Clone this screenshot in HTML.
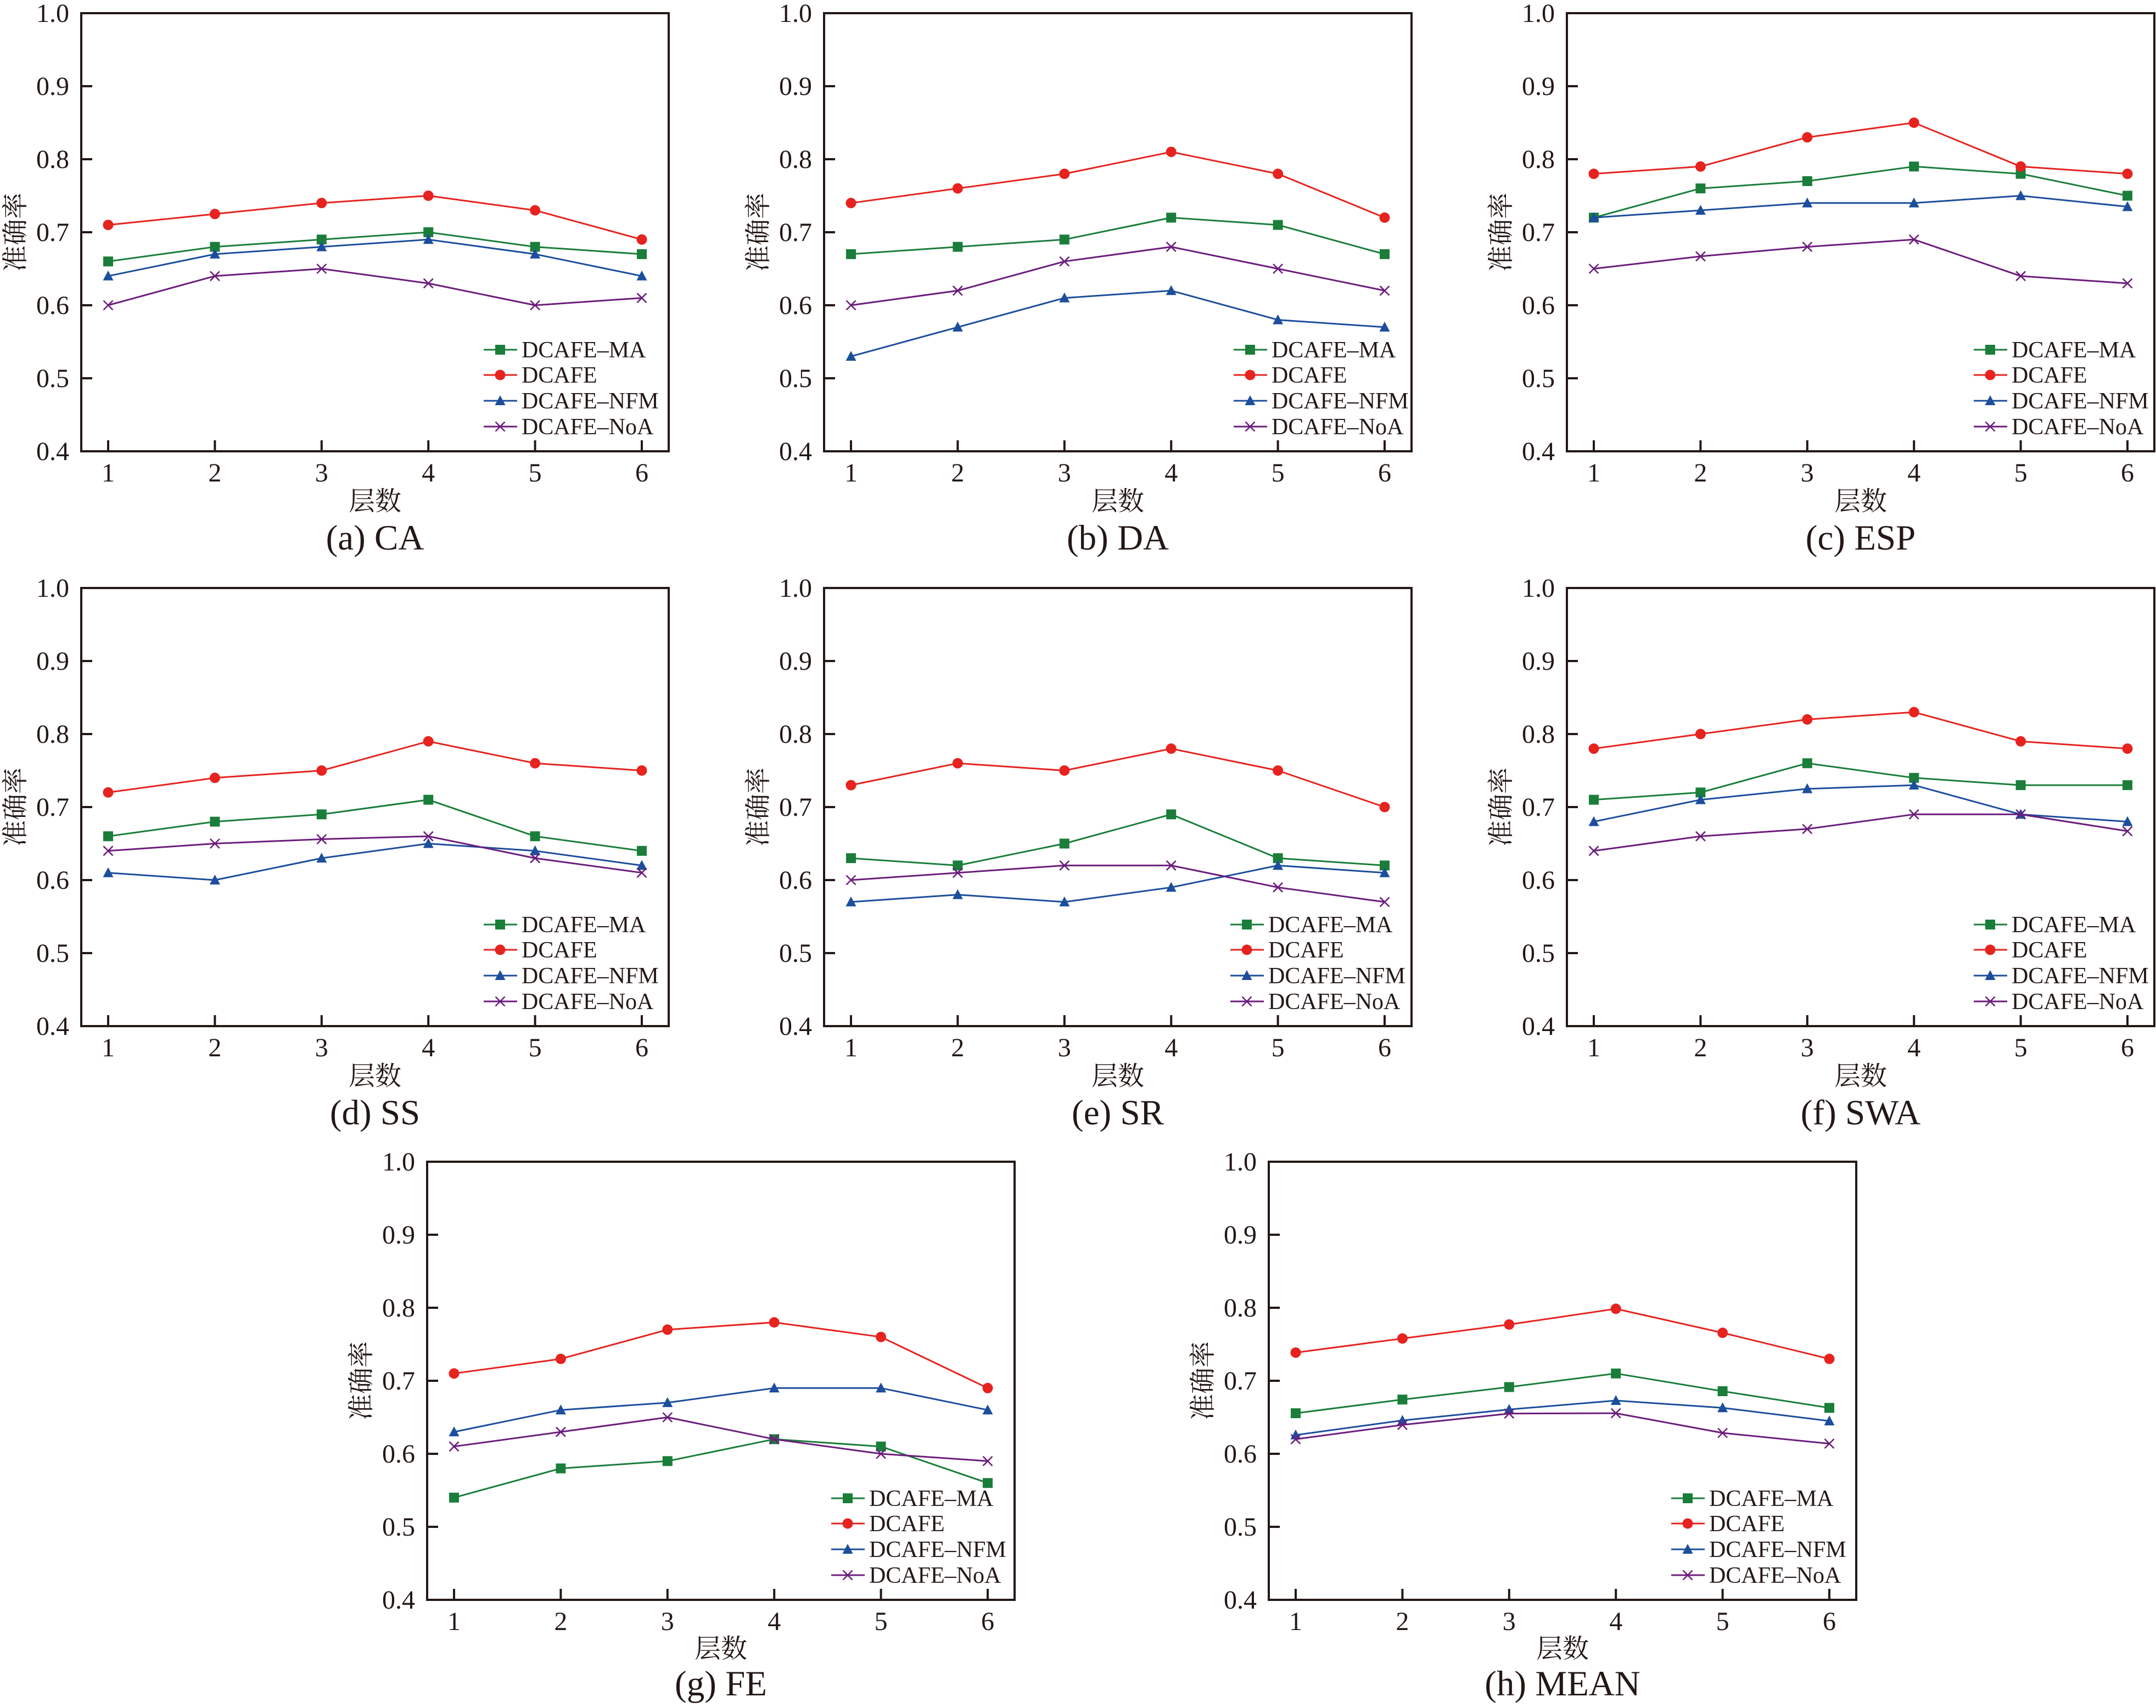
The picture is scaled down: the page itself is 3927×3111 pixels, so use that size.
<!DOCTYPE html>
<html>
<head>
<meta charset="utf-8">
<style>
html,body{margin:0;padding:0;background:#fff;}
svg{display:block;}
.t{font-family:"Liberation Serif","Noto Serif CJK SC",serif;fill:#231815;}
.tk{font-size:48px;}
.lg{font-size:42px;}
.cj{font-size:48px;}
.cap{font-size:65px;}
.fr{fill:none;stroke:#231815;stroke-width:4;}
.tick{fill:none;stroke:#231815;stroke-width:4;}
.s{fill:none;stroke-width:3;stroke-linejoin:round;}
.g{stroke:#1a7e3a;}
.r{stroke:#e6231f;}
.b{stroke:#1c4e9c;}
.p{stroke:#6c1d7c;}
</style>
</head>
<body>
<svg width="3927" height="3111" viewBox="0 0 3927 3111" xmlns="http://www.w3.org/2000/svg">
<defs>
<marker id="mS" markerUnits="userSpaceOnUse" markerWidth="20" markerHeight="20" refX="10" refY="10" overflow="visible"><rect x="1" y="1" width="18" height="18" fill="#1a7e3a"/></marker>
<marker id="mC" markerUnits="userSpaceOnUse" markerWidth="20" markerHeight="20" refX="10" refY="10" overflow="visible"><circle cx="10" cy="10" r="9.5" fill="#e6231f"/></marker>
<marker id="mT" markerUnits="userSpaceOnUse" markerWidth="20" markerHeight="20" refX="10" refY="10" overflow="visible"><polygon points="10,0 19.5,18 0.5,18" fill="#1c4e9c"/></marker>
<marker id="mX" markerUnits="userSpaceOnUse" markerWidth="20" markerHeight="20" refX="10" refY="10" overflow="visible"><path d="M1.5,1.5L18.5,18.5M18.5,1.5L1.5,18.5" stroke="#6c1d7c" stroke-width="2.6" fill="none"/></marker>
</defs>
<rect width="3927" height="3111" fill="#fff"/>

<!-- (a) CA -->
<g transform="translate(148,24)">
<rect class="fr" x="0" y="0" width="1070" height="798"/>
<path class="tick" d="M0,133h20M0,266h20M0,399h20M0,532h20M0,665h20M49,798v-20M243.4,798v-20M437.8,798v-20M632.2,798v-20M826.6,798v-20M1021,798v-20"/>
<g class="t tk" text-anchor="end"><text x="-22" y="16">1.0</text><text x="-22" y="149">0.9</text><text x="-22" y="282">0.8</text><text x="-22" y="415">0.7</text><text x="-22" y="548">0.6</text><text x="-22" y="681">0.5</text><text x="-22" y="814">0.4</text></g>
<g class="t tk" text-anchor="middle"><text x="49" y="853">1</text><text x="243.4" y="853">2</text><text x="437.8" y="853">3</text><text x="632.2" y="853">4</text><text x="826.6" y="853">5</text><text x="1021" y="853">6</text></g>
<text class="t cj" x="535" y="905" text-anchor="middle">层数</text>
<text class="t cap" x="535" y="977" text-anchor="middle">(a) CA</text>
<text class="t cj" transform="translate(-104,399) rotate(-90)" text-anchor="middle">准确率</text>
<polyline class="s g" marker-start="url(#mS)" marker-mid="url(#mS)" marker-end="url(#mS)" points="49,452.2 243.4,425.6 437.8,412.3 632.2,399 826.6,425.6 1021,438.9"/>
<polyline class="s r" marker-start="url(#mC)" marker-mid="url(#mC)" marker-end="url(#mC)" points="49,385.7 243.4,365.8 437.8,345.8 632.2,332.5 826.6,359.1 1021,412.3"/>
<polyline class="s b" marker-start="url(#mT)" marker-mid="url(#mT)" marker-end="url(#mT)" points="49,478.8 243.4,438.9 437.8,425.6 632.2,412.3 826.6,438.9 1021,478.8"/>
<polyline class="s p" marker-start="url(#mX)" marker-mid="url(#mX)" marker-end="url(#mX)" points="49,532 243.4,478.8 437.8,465.5 632.2,492.1 826.6,532 1021,518.7"/>
<g transform="translate(802,0)">
<path class="s g" marker-mid="url(#mS)" d="M-69,613H-39H-8"/>
<path class="s r" marker-mid="url(#mC)" d="M-69,659H-39H-8"/>
<path class="s b" marker-mid="url(#mT)" d="M-69,706H-39H-8"/>
<path class="s p" marker-mid="url(#mX)" d="M-69,753H-39H-8"/>
<g class="t lg"><text x="0" y="627">DCAFE–MA</text><text x="0" y="673">DCAFE</text><text x="0" y="720">DCAFE–NFM</text><text x="0" y="767">DCAFE–NoA</text></g>
</g>
</g>

<!-- (b) DA -->
<g transform="translate(1501,24)">
<rect class="fr" x="0" y="0" width="1070" height="798"/>
<path class="tick" d="M0,133h20M0,266h20M0,399h20M0,532h20M0,665h20M49,798v-20M243.4,798v-20M437.8,798v-20M632.2,798v-20M826.6,798v-20M1021,798v-20"/>
<g class="t tk" text-anchor="end"><text x="-22" y="16">1.0</text><text x="-22" y="149">0.9</text><text x="-22" y="282">0.8</text><text x="-22" y="415">0.7</text><text x="-22" y="548">0.6</text><text x="-22" y="681">0.5</text><text x="-22" y="814">0.4</text></g>
<g class="t tk" text-anchor="middle"><text x="49" y="853">1</text><text x="243.4" y="853">2</text><text x="437.8" y="853">3</text><text x="632.2" y="853">4</text><text x="826.6" y="853">5</text><text x="1021" y="853">6</text></g>
<text class="t cj" x="535" y="905" text-anchor="middle">层数</text>
<text class="t cap" x="535" y="977" text-anchor="middle">(b) DA</text>
<text class="t cj" transform="translate(-104,399) rotate(-90)" text-anchor="middle">准确率</text>
<polyline class="s g" marker-start="url(#mS)" marker-mid="url(#mS)" marker-end="url(#mS)" points="49,438.9 243.4,425.6 437.8,412.3 632.2,372.4 826.6,385.7 1021,438.9"/>
<polyline class="s r" marker-start="url(#mC)" marker-mid="url(#mC)" marker-end="url(#mC)" points="49,345.8 243.4,319.2 437.8,292.6 632.2,252.7 826.6,292.6 1021,372.4"/>
<polyline class="s b" marker-start="url(#mT)" marker-mid="url(#mT)" marker-end="url(#mT)" points="49,625.1 243.4,571.9 437.8,518.7 632.2,505.4 826.6,558.6 1021,571.9"/>
<polyline class="s p" marker-start="url(#mX)" marker-mid="url(#mX)" marker-end="url(#mX)" points="49,532 243.4,505.4 437.8,452.2 632.2,425.6 826.6,465.5 1021,505.4"/>
<g transform="translate(815,0)">
<path class="s g" marker-mid="url(#mS)" d="M-69,613H-39H-8"/>
<path class="s r" marker-mid="url(#mC)" d="M-69,659H-39H-8"/>
<path class="s b" marker-mid="url(#mT)" d="M-69,706H-39H-8"/>
<path class="s p" marker-mid="url(#mX)" d="M-69,753H-39H-8"/>
<g class="t lg"><text x="0" y="627">DCAFE–MA</text><text x="0" y="673">DCAFE</text><text x="0" y="720">DCAFE–NFM</text><text x="0" y="767">DCAFE–NoA</text></g>
</g>
</g>

<!-- (c) ESP -->
<g transform="translate(2854,24)">
<rect class="fr" x="0" y="0" width="1070" height="798"/>
<path class="tick" d="M0,133h20M0,266h20M0,399h20M0,532h20M0,665h20M49,798v-20M243.4,798v-20M437.8,798v-20M632.2,798v-20M826.6,798v-20M1021,798v-20"/>
<g class="t tk" text-anchor="end"><text x="-22" y="16">1.0</text><text x="-22" y="149">0.9</text><text x="-22" y="282">0.8</text><text x="-22" y="415">0.7</text><text x="-22" y="548">0.6</text><text x="-22" y="681">0.5</text><text x="-22" y="814">0.4</text></g>
<g class="t tk" text-anchor="middle"><text x="49" y="853">1</text><text x="243.4" y="853">2</text><text x="437.8" y="853">3</text><text x="632.2" y="853">4</text><text x="826.6" y="853">5</text><text x="1021" y="853">6</text></g>
<text class="t cj" x="535" y="905" text-anchor="middle">层数</text>
<text class="t cap" x="535" y="977" text-anchor="middle">(c) ESP</text>
<text class="t cj" transform="translate(-104,399) rotate(-90)" text-anchor="middle">准确率</text>
<polyline class="s g" marker-start="url(#mS)" marker-mid="url(#mS)" marker-end="url(#mS)" points="49,372.4 243.4,319.2 437.8,305.9 632.2,279.3 826.6,292.6 1021,332.5"/>
<polyline class="s r" marker-start="url(#mC)" marker-mid="url(#mC)" marker-end="url(#mC)" points="49,292.6 243.4,279.3 437.8,226.1 632.2,199.5 826.6,279.3 1021,292.6"/>
<polyline class="s b" marker-start="url(#mT)" marker-mid="url(#mT)" marker-end="url(#mT)" points="49,372.4 243.4,359.1 437.8,345.8 632.2,345.8 826.6,332.5 1021,352.5"/>
<polyline class="s p" marker-start="url(#mX)" marker-mid="url(#mX)" marker-end="url(#mX)" points="49,465.5 243.4,442.9 437.8,425.6 632.2,412.3 826.6,478.8 1021,492.1"/>
<g transform="translate(810,0)">
<path class="s g" marker-mid="url(#mS)" d="M-69,613H-39H-8"/>
<path class="s r" marker-mid="url(#mC)" d="M-69,659H-39H-8"/>
<path class="s b" marker-mid="url(#mT)" d="M-69,706H-39H-8"/>
<path class="s p" marker-mid="url(#mX)" d="M-69,753H-39H-8"/>
<g class="t lg"><text x="0" y="627">DCAFE–MA</text><text x="0" y="673">DCAFE</text><text x="0" y="720">DCAFE–NFM</text><text x="0" y="767">DCAFE–NoA</text></g>
</g>
</g>

<!-- (d) SS -->
<g transform="translate(148,1071)">
<rect class="fr" x="0" y="0" width="1070" height="798"/>
<path class="tick" d="M0,133h20M0,266h20M0,399h20M0,532h20M0,665h20M49,798v-20M243.4,798v-20M437.8,798v-20M632.2,798v-20M826.6,798v-20M1021,798v-20"/>
<g class="t tk" text-anchor="end"><text x="-22" y="16">1.0</text><text x="-22" y="149">0.9</text><text x="-22" y="282">0.8</text><text x="-22" y="415">0.7</text><text x="-22" y="548">0.6</text><text x="-22" y="681">0.5</text><text x="-22" y="814">0.4</text></g>
<g class="t tk" text-anchor="middle"><text x="49" y="853">1</text><text x="243.4" y="853">2</text><text x="437.8" y="853">3</text><text x="632.2" y="853">4</text><text x="826.6" y="853">5</text><text x="1021" y="853">6</text></g>
<text class="t cj" x="535" y="905" text-anchor="middle">层数</text>
<text class="t cap" x="535" y="977" text-anchor="middle">(d) SS</text>
<text class="t cj" transform="translate(-104,399) rotate(-90)" text-anchor="middle">准确率</text>
<polyline class="s g" marker-start="url(#mS)" marker-mid="url(#mS)" marker-end="url(#mS)" points="49,452.2 243.4,425.6 437.8,412.3 632.2,385.7 826.6,452.2 1021,478.8"/>
<polyline class="s r" marker-start="url(#mC)" marker-mid="url(#mC)" marker-end="url(#mC)" points="49,372.4 243.4,345.8 437.8,332.5 632.2,279.3 826.6,319.2 1021,332.5"/>
<polyline class="s b" marker-start="url(#mT)" marker-mid="url(#mT)" marker-end="url(#mT)" points="49,518.7 243.4,532 437.8,492.1 632.2,465.5 826.6,478.8 1021,505.4"/>
<polyline class="s p" marker-start="url(#mX)" marker-mid="url(#mX)" marker-end="url(#mX)" points="49,478.8 243.4,465.5 437.8,457.5 632.2,452.2 826.6,492.1 1021,518.7"/>
<g transform="translate(802,0)">
<path class="s g" marker-mid="url(#mS)" d="M-69,613H-39H-8"/>
<path class="s r" marker-mid="url(#mC)" d="M-69,659H-39H-8"/>
<path class="s b" marker-mid="url(#mT)" d="M-69,706H-39H-8"/>
<path class="s p" marker-mid="url(#mX)" d="M-69,753H-39H-8"/>
<g class="t lg"><text x="0" y="627">DCAFE–MA</text><text x="0" y="673">DCAFE</text><text x="0" y="720">DCAFE–NFM</text><text x="0" y="767">DCAFE–NoA</text></g>
</g>
</g>

<!-- (e) SR -->
<g transform="translate(1501,1071)">
<rect class="fr" x="0" y="0" width="1070" height="798"/>
<path class="tick" d="M0,133h20M0,266h20M0,399h20M0,532h20M0,665h20M49,798v-20M243.4,798v-20M437.8,798v-20M632.2,798v-20M826.6,798v-20M1021,798v-20"/>
<g class="t tk" text-anchor="end"><text x="-22" y="16">1.0</text><text x="-22" y="149">0.9</text><text x="-22" y="282">0.8</text><text x="-22" y="415">0.7</text><text x="-22" y="548">0.6</text><text x="-22" y="681">0.5</text><text x="-22" y="814">0.4</text></g>
<g class="t tk" text-anchor="middle"><text x="49" y="853">1</text><text x="243.4" y="853">2</text><text x="437.8" y="853">3</text><text x="632.2" y="853">4</text><text x="826.6" y="853">5</text><text x="1021" y="853">6</text></g>
<text class="t cj" x="535" y="905" text-anchor="middle">层数</text>
<text class="t cap" x="535" y="977" text-anchor="middle">(e) SR</text>
<text class="t cj" transform="translate(-104,399) rotate(-90)" text-anchor="middle">准确率</text>
<polyline class="s g" marker-start="url(#mS)" marker-mid="url(#mS)" marker-end="url(#mS)" points="49,492.1 243.4,505.4 437.8,465.5 632.2,412.3 826.6,492.1 1021,505.4"/>
<polyline class="s r" marker-start="url(#mC)" marker-mid="url(#mC)" marker-end="url(#mC)" points="49,359.1 243.4,319.2 437.8,332.5 632.2,292.6 826.6,332.5 1021,399"/>
<polyline class="s b" marker-start="url(#mT)" marker-mid="url(#mT)" marker-end="url(#mT)" points="49,571.9 243.4,558.6 437.8,571.9 632.2,545.3 826.6,505.4 1021,518.7"/>
<polyline class="s p" marker-start="url(#mX)" marker-mid="url(#mX)" marker-end="url(#mX)" points="49,532 243.4,518.7 437.8,505.4 632.2,505.4 826.6,545.3 1021,571.9"/>
<g transform="translate(809,0)">
<path class="s g" marker-mid="url(#mS)" d="M-69,613H-39H-8"/>
<path class="s r" marker-mid="url(#mC)" d="M-69,659H-39H-8"/>
<path class="s b" marker-mid="url(#mT)" d="M-69,706H-39H-8"/>
<path class="s p" marker-mid="url(#mX)" d="M-69,753H-39H-8"/>
<g class="t lg"><text x="0" y="627">DCAFE–MA</text><text x="0" y="673">DCAFE</text><text x="0" y="720">DCAFE–NFM</text><text x="0" y="767">DCAFE–NoA</text></g>
</g>
</g>

<!-- (f) SWA -->
<g transform="translate(2854,1071)">
<rect class="fr" x="0" y="0" width="1070" height="798"/>
<path class="tick" d="M0,133h20M0,266h20M0,399h20M0,532h20M0,665h20M49,798v-20M243.4,798v-20M437.8,798v-20M632.2,798v-20M826.6,798v-20M1021,798v-20"/>
<g class="t tk" text-anchor="end"><text x="-22" y="16">1.0</text><text x="-22" y="149">0.9</text><text x="-22" y="282">0.8</text><text x="-22" y="415">0.7</text><text x="-22" y="548">0.6</text><text x="-22" y="681">0.5</text><text x="-22" y="814">0.4</text></g>
<g class="t tk" text-anchor="middle"><text x="49" y="853">1</text><text x="243.4" y="853">2</text><text x="437.8" y="853">3</text><text x="632.2" y="853">4</text><text x="826.6" y="853">5</text><text x="1021" y="853">6</text></g>
<text class="t cj" x="535" y="905" text-anchor="middle">层数</text>
<text class="t cap" x="535" y="977" text-anchor="middle">(f) SWA</text>
<text class="t cj" transform="translate(-104,399) rotate(-90)" text-anchor="middle">准确率</text>
<polyline class="s g" marker-start="url(#mS)" marker-mid="url(#mS)" marker-end="url(#mS)" points="49,385.7 243.4,372.4 437.8,319.2 632.2,345.8 826.6,359.1 1021,359.1"/>
<polyline class="s r" marker-start="url(#mC)" marker-mid="url(#mC)" marker-end="url(#mC)" points="49,292.6 243.4,266 437.8,239.4 632.2,226.1 826.6,279.3 1021,292.6"/>
<polyline class="s b" marker-start="url(#mT)" marker-mid="url(#mT)" marker-end="url(#mT)" points="49,425.6 243.4,385.7 437.8,365.8 632.2,359.1 826.6,412.3 1021,425.6"/>
<polyline class="s p" marker-start="url(#mX)" marker-mid="url(#mX)" marker-end="url(#mX)" points="49,478.8 243.4,452.2 437.8,438.9 632.2,412.3 826.6,412.3 1021,442.9"/>
<g transform="translate(810,0)">
<path class="s g" marker-mid="url(#mS)" d="M-69,613H-39H-8"/>
<path class="s r" marker-mid="url(#mC)" d="M-69,659H-39H-8"/>
<path class="s b" marker-mid="url(#mT)" d="M-69,706H-39H-8"/>
<path class="s p" marker-mid="url(#mX)" d="M-69,753H-39H-8"/>
<g class="t lg"><text x="0" y="627">DCAFE–MA</text><text x="0" y="673">DCAFE</text><text x="0" y="720">DCAFE–NFM</text><text x="0" y="767">DCAFE–NoA</text></g>
</g>
</g>

<!-- (g) FE -->
<g transform="translate(778,2116)">
<rect class="fr" x="0" y="0" width="1070" height="798"/>
<path class="tick" d="M0,133h20M0,266h20M0,399h20M0,532h20M0,665h20M49,798v-20M243.4,798v-20M437.8,798v-20M632.2,798v-20M826.6,798v-20M1021,798v-20"/>
<g class="t tk" text-anchor="end"><text x="-22" y="16">1.0</text><text x="-22" y="149">0.9</text><text x="-22" y="282">0.8</text><text x="-22" y="415">0.7</text><text x="-22" y="548">0.6</text><text x="-22" y="681">0.5</text><text x="-22" y="814">0.4</text></g>
<g class="t tk" text-anchor="middle"><text x="49" y="853">1</text><text x="243.4" y="853">2</text><text x="437.8" y="853">3</text><text x="632.2" y="853">4</text><text x="826.6" y="853">5</text><text x="1021" y="853">6</text></g>
<text class="t cj" x="535" y="903" text-anchor="middle">层数</text>
<text class="t cap" x="535" y="972" text-anchor="middle">(g) FE</text>
<text class="t cj" transform="translate(-104,399) rotate(-90)" text-anchor="middle">准确率</text>
<polyline class="s g" marker-start="url(#mS)" marker-mid="url(#mS)" marker-end="url(#mS)" points="49,611.8 243.4,558.6 437.8,545.3 632.2,505.4 826.6,518.7 1021,585.2"/>
<polyline class="s r" marker-start="url(#mC)" marker-mid="url(#mC)" marker-end="url(#mC)" points="49,385.7 243.4,359.1 437.8,305.9 632.2,292.6 826.6,319.2 1021,412.3"/>
<polyline class="s b" marker-start="url(#mT)" marker-mid="url(#mT)" marker-end="url(#mT)" points="49,492.1 243.4,452.2 437.8,438.9 632.2,412.3 826.6,412.3 1021,452.2"/>
<polyline class="s p" marker-start="url(#mX)" marker-mid="url(#mX)" marker-end="url(#mX)" points="49,518.7 243.4,492.1 437.8,465.5 632.2,505.4 826.6,532 1021,545.3"/>
<g transform="translate(805,0)">
<path class="s g" marker-mid="url(#mS)" d="M-69,613H-39H-8"/>
<path class="s r" marker-mid="url(#mC)" d="M-69,659H-39H-8"/>
<path class="s b" marker-mid="url(#mT)" d="M-69,706H-39H-8"/>
<path class="s p" marker-mid="url(#mX)" d="M-69,753H-39H-8"/>
<g class="t lg"><text x="0" y="627">DCAFE–MA</text><text x="0" y="673">DCAFE</text><text x="0" y="720">DCAFE–NFM</text><text x="0" y="767">DCAFE–NoA</text></g>
</g>
</g>

<!-- (h) MEAN -->
<g transform="translate(2311,2116)">
<rect class="fr" x="0" y="0" width="1070" height="798"/>
<path class="tick" d="M0,133h20M0,266h20M0,399h20M0,532h20M0,665h20M49,798v-20M243.4,798v-20M437.8,798v-20M632.2,798v-20M826.6,798v-20M1021,798v-20"/>
<g class="t tk" text-anchor="end"><text x="-22" y="16">1.0</text><text x="-22" y="149">0.9</text><text x="-22" y="282">0.8</text><text x="-22" y="415">0.7</text><text x="-22" y="548">0.6</text><text x="-22" y="681">0.5</text><text x="-22" y="814">0.4</text></g>
<g class="t tk" text-anchor="middle"><text x="49" y="853">1</text><text x="243.4" y="853">2</text><text x="437.8" y="853">3</text><text x="632.2" y="853">4</text><text x="826.6" y="853">5</text><text x="1021" y="853">6</text></g>
<text class="t cj" x="535" y="903" text-anchor="middle">层数</text>
<text class="t cap" x="535" y="972" text-anchor="middle">(h) MEAN</text>
<text class="t cj" transform="translate(-104,399) rotate(-90)" text-anchor="middle">准确率</text>
<polyline class="s g" marker-start="url(#mS)" marker-mid="url(#mS)" marker-end="url(#mS)" points="49,458.1 243.4,433.2 437.8,410.4 632.2,385.7 826.6,418 1021,448.3"/>
<polyline class="s r" marker-start="url(#mC)" marker-mid="url(#mC)" marker-end="url(#mC)" points="49,347.7 243.4,322 437.8,296.5 632.2,267.9 826.6,311.6 1021,359.1"/>
<polyline class="s b" marker-start="url(#mT)" marker-mid="url(#mT)" marker-end="url(#mT)" points="49,497.8 243.4,471.2 437.8,451.3 632.2,435 826.6,448.3 1021,472.2"/>
<polyline class="s p" marker-start="url(#mX)" marker-mid="url(#mX)" marker-end="url(#mX)" points="49,505.4 243.4,479.3 437.8,458.7 632.2,458.1 826.6,494 1021,513.5"/>
<g transform="translate(802,0)">
<path class="s g" marker-mid="url(#mS)" d="M-69,613H-39H-8"/>
<path class="s r" marker-mid="url(#mC)" d="M-69,659H-39H-8"/>
<path class="s b" marker-mid="url(#mT)" d="M-69,706H-39H-8"/>
<path class="s p" marker-mid="url(#mX)" d="M-69,753H-39H-8"/>
<g class="t lg"><text x="0" y="627">DCAFE–MA</text><text x="0" y="673">DCAFE</text><text x="0" y="720">DCAFE–NFM</text><text x="0" y="767">DCAFE–NoA</text></g>
</g>
</g>
</svg>
</body>
</html>
